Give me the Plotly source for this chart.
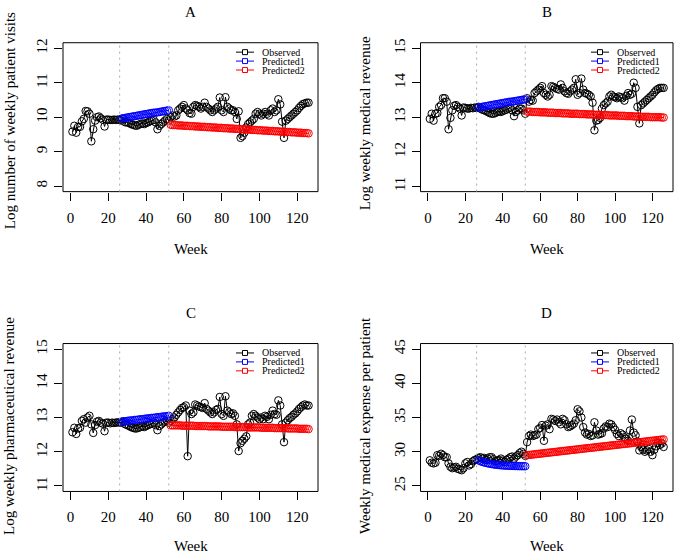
import plotly.graph_objects as go

# ---------------- data ----------------
weeks = list(range(1, 127))
weeks_p1 = list(range(27, 53))
weeks_p2 = list(range(53, 127))
x_ticks = [0, 20, 40, 60, 80, 100, 120]
split_weeks = [26, 52]
series_names = ["Observed", "Predicted1", "Predicted2"]
panel_titles = ["A", "B", "C", "D"]
y_titles = ["Log number of weekly patient visits", "Log weekly medical revenue",
            "Log weekly pharmaceutical revenue", "Weekly medical expense per patient"]
y_ticks_A = [8, 9, 10, 11, 12]
y_ticks_B = [11, 12, 13, 14, 15]
y_ticks_C = [11, 12, 13, 14, 15]
y_ticks_D = [25, 30, 35, 40, 45]

obs_A = [9.58, 9.75, 9.55, 9.72, 9.72, 9.88, 9.95, 10.18, 10.17, 10.1,
         9.3, 9.65, 9.9, 10.0, 10.02, 9.97, 9.93, 9.73, 9.93, 9.93,
         9.92, 9.92, 9.93, 9.92, 9.93, 9.92, 9.9, 9.95, 9.85, 9.85,
         9.83, 9.8, 9.78, 9.76, 9.75, 9.78, 9.8, 9.82, 9.8, 9.83,
         9.85, 9.88, 9.9, 9.92, 9.85, 9.65, 9.75, 9.8, 9.85, 9.9,
         9.95, 9.9, 10.0, 10.05, 10.02, 10.05, 10.2, 10.25, 10.3, 10.35,
         10.25, 10.2, 10.12, 10.1, 10.3, 10.35, 10.33, 10.3, 10.25, 10.3,
         10.42, 10.3, 10.25, 10.2, 10.15, 10.2, 10.25, 10.3, 10.57, 10.2,
         10.15, 10.58, 10.3, 10.25, 10.2, 10.2, 10.15, 9.95, 10.17, 9.4,
         9.45, 9.55, 9.7, 9.8, 9.85, 9.9, 9.95, 10.1, 10.15, 10.1,
         10.05, 10.1, 10.15, 10.1, 10.05, 10.2, 10.25, 10.15, 10.2, 10.52,
         10.37, 9.87, 9.4, 9.9, 9.95, 10.0, 10.05, 10.1, 10.15, 10.2,
         10.27, 10.33, 10.38, 10.4, 10.42, 10.42]
p1_A = [9.96, 9.97, 9.98, 9.99, 10.00, 10.01, 10.02, 10.03, 10.04, 10.05,
        10.06, 10.07, 10.08, 10.09, 10.10, 10.11, 10.12, 10.13, 10.13, 10.14,
        10.15, 10.16, 10.17, 10.18, 10.19, 10.20]
p2_A = [9.78, 9.77, 9.77, 9.77, 9.76, 9.76, 9.76, 9.75, 9.75, 9.75,
        9.74, 9.74, 9.74, 9.73, 9.73, 9.73, 9.72, 9.72, 9.72, 9.71,
        9.71, 9.71, 9.70, 9.70, 9.70, 9.69, 9.69, 9.69, 9.68, 9.68,
        9.68, 9.67, 9.67, 9.67, 9.66, 9.66, 9.66, 9.65, 9.65, 9.65,
        9.64, 9.64, 9.64, 9.63, 9.63, 9.63, 9.62, 9.62, 9.62, 9.61,
        9.61, 9.61, 9.60, 9.60, 9.60, 9.59, 9.59, 9.59, 9.58, 9.58,
        9.58, 9.57, 9.57, 9.57, 9.56, 9.56, 9.56, 9.55, 9.55, 9.55,
        9.54, 9.54, 9.54, 9.53]

obs_B = [12.95, 13.1, 12.9, 13.1, 13.12, 13.3, 13.35, 13.55, 13.55, 13.45,
         12.65, 12.98, 13.2, 13.33, 13.35, 13.3, 13.25, 13.05, 13.28, 13.27,
         13.25, 13.25, 13.27, 13.26, 13.28, 13.27, 13.3, 13.25, 13.22, 13.2,
         13.18, 13.15, 13.12, 13.1, 13.1, 13.12, 13.15, 13.17, 13.15, 13.18,
         13.2, 13.22, 13.25, 13.28, 13.2, 13.03, 13.15, 13.2, 13.25, 13.25,
         13.2, 13.1, 13.55, 13.45, 13.5, 13.48, 13.7, 13.75, 13.8, 13.85,
         13.9, 13.7, 13.65, 13.6, 13.65, 13.9, 13.88, 13.85, 13.82, 13.8,
         13.95, 13.85, 13.75, 13.7, 13.68, 13.75, 13.8, 13.85, 14.1, 13.65,
         13.7, 14.12, 13.8, 13.7, 13.68, 13.65, 13.6, 13.42, 12.62, 12.9,
         12.92, 12.98, 13.25, 13.35, 13.4, 13.45, 13.6, 13.65, 13.6, 13.58,
         13.55, 13.6, 13.58, 13.55, 13.48, 13.62, 13.7, 13.65, 13.68, 14.0,
         13.85, 13.3, 12.82, 13.35, 13.4, 13.45, 13.5, 13.55, 13.6, 13.65,
         13.72, 13.78, 13.82, 13.85, 13.85, 13.85]
p1_B = [13.28, 13.29, 13.30, 13.31, 13.32, 13.33, 13.34, 13.35, 13.36, 13.37,
        13.38, 13.39, 13.40, 13.41, 13.42, 13.43, 13.44, 13.45, 13.45, 13.46,
        13.47, 13.48, 13.49, 13.50, 13.51, 13.52]
p2_B = [13.16, 13.16, 13.16, 13.15, 13.15, 13.15, 13.15, 13.14, 13.14, 13.14,
        13.14, 13.13, 13.13, 13.13, 13.13, 13.12, 13.12, 13.12, 13.12, 13.11,
        13.11, 13.11, 13.11, 13.10, 13.10, 13.10, 13.10, 13.10, 13.09, 13.09,
        13.09, 13.09, 13.08, 13.08, 13.08, 13.08, 13.07, 13.07, 13.07, 13.07,
        13.06, 13.06, 13.06, 13.06, 13.05, 13.05, 13.05, 13.05, 13.05, 13.04,
        13.04, 13.04, 13.04, 13.03, 13.03, 13.03, 13.03, 13.02, 13.02, 13.02,
        13.02, 13.01, 13.01, 13.01, 13.01, 13.01, 13.00, 13.00, 13.00, 13.00,
        13.00, 13.00, 12.99, 12.99]

obs_C = [12.57, 12.7, 12.52, 12.68, 12.7, 12.9, 12.95, 12.85, 13.0, 13.05,
         12.8, 12.55, 12.78, 12.88, 12.9, 12.85, 12.82, 12.6, 12.85, 12.85,
         12.83, 12.85, 12.84, 12.85, 12.86, 12.85, 12.85, 12.88, 12.8, 12.78,
         12.75, 12.72, 12.7, 12.68, 12.68, 12.7, 12.72, 12.75, 12.72, 12.75,
         12.78, 12.8, 12.82, 12.85, 12.78, 12.63, 12.75, 12.8, 12.85, 12.88,
         12.9, 12.85, 12.9, 12.95, 13.0, 13.08, 13.15, 13.22, 13.28, 13.3,
         13.35, 11.87, 13.2, 13.1, 13.15, 13.38, 13.35, 13.32, 13.3, 13.28,
         13.42, 13.25, 13.2, 13.15, 13.1, 13.15, 13.22, 13.25, 13.6, 13.1,
         13.05, 13.62, 13.2, 13.15, 13.1, 13.12, 13.05, 12.8, 12.02, 12.25,
         12.32, 12.38, 12.45, 12.8, 12.85, 13.05, 13.1, 13.05, 13.0, 12.95,
         13.0, 12.95, 13.05, 13.02, 12.95, 13.08, 13.2, 13.1, 13.08, 13.5,
         13.35, 12.8, 12.28, 12.85, 12.92, 12.98, 13.02, 13.08, 13.12, 13.18,
         13.25, 13.3, 13.35, 13.38, 13.35, 13.35]
p1_C = [12.88, 12.89, 12.89, 12.90, 12.91, 12.91, 12.92, 12.93, 12.93, 12.94,
        12.95, 12.95, 12.96, 12.97, 12.97, 12.98, 12.99, 12.99, 13.00, 13.01,
        13.01, 13.02, 13.03, 13.03, 13.04, 13.05]
p2_C = [12.77, 12.77, 12.77, 12.77, 12.77, 12.77, 12.76, 12.76, 12.76, 12.76,
        12.76, 12.76, 12.76, 12.75, 12.75, 12.75, 12.75, 12.75, 12.75, 12.75,
        12.74, 12.74, 12.74, 12.74, 12.74, 12.74, 12.74, 12.73, 12.73, 12.73,
        12.73, 12.73, 12.73, 12.73, 12.72, 12.72, 12.72, 12.72, 12.72, 12.72,
        12.72, 12.71, 12.71, 12.71, 12.71, 12.71, 12.71, 12.71, 12.70, 12.70,
        12.70, 12.70, 12.70, 12.70, 12.70, 12.69, 12.69, 12.69, 12.69, 12.69,
        12.69, 12.69, 12.68, 12.68, 12.68, 12.68, 12.68, 12.68, 12.67, 12.67,
        12.67, 12.67, 12.67, 12.66]

obs_D = [28.75, 28.4, 28.3, 28.4, 29.5, 29.4, 29.7, 29.5, 29.2, 29.2,
         28.3, 27.8, 27.6, 27.7, 27.8, 27.5, 27.4, 27.3, 27.6, 28.3,
         28.5, 28.0, 28.2, 28.6, 28.8, 28.9, 29.1, 29.2, 29.0, 29.1,
         28.8, 29.0, 29.2, 29.2, 28.9, 28.6, 28.7, 28.8, 29.0, 28.7,
         28.5, 28.8, 29.0, 29.2, 29.3, 29.0, 29.3, 29.5, 29.8, 30.0,
         29.7, 29.4, 31.4, 32.3, 32.5, 32.3, 32.4, 32.5, 33.3, 33.5,
         33.9, 31.6, 33.8, 34.0, 33.3, 34.8, 34.7, 34.5, 34.7, 34.3,
         34.0, 34.8, 34.6, 34.0, 33.6, 33.7, 33.9, 34.1, 34.6, 36.2,
         35.9, 35.0, 33.6, 32.8, 32.5, 32.6, 32.3, 32.4, 34.3, 33.1,
         32.5, 32.6, 32.7, 33.4, 33.7, 33.6, 34.1, 34.0, 33.6, 33.2,
         32.6, 32.3, 32.7, 32.5, 32.1, 31.9, 31.6, 33.1, 34.7, 32.8,
         32.4, 31.5, 30.2, 30.7, 30.3, 30.0, 30.2, 30.4, 30.0, 29.5,
         30.3, 30.8, 31.3, 31.0, 31.2, 30.7]
p1_D = [28.75, 28.62, 28.52, 28.44, 28.37, 28.30, 28.25, 28.20, 28.15, 28.11,
        28.08, 28.05, 28.02, 28.00, 27.98, 27.96, 27.95, 27.94, 27.93, 27.92,
        27.91, 27.90, 27.90, 27.89, 27.89, 27.88]
p2_D = [29.50, 29.53, 29.56, 29.59, 29.63, 29.66, 29.69, 29.72, 29.75, 29.78,
        29.82, 29.85, 29.88, 29.91, 29.94, 29.97, 30.00, 30.04, 30.07, 30.10,
        30.13, 30.16, 30.19, 30.22, 30.26, 30.29, 30.32, 30.35, 30.38, 30.41,
        30.45, 30.48, 30.51, 30.54, 30.57, 30.60, 30.63, 30.67, 30.70, 30.73,
        30.76, 30.79, 30.82, 30.85, 30.89, 30.92, 30.95, 30.98, 31.01, 31.04,
        31.08, 31.11, 31.14, 31.17, 31.20, 31.23, 31.26, 31.30, 31.33, 31.36,
        31.39, 31.42, 31.45, 31.48, 31.52, 31.55, 31.58, 31.61, 31.64, 31.67,
        31.71, 31.74, 31.77, 31.80]

# ---------------- layout ----------------
W, H = 676, 555
FONT = "Liberation Serif"
COLORS = ["#000000", "#0000FF", "#FF0000"]


def px(x):
    return x / W


def py(y):
    return 1 - y / H


panels = [
    dict(box=(63, 318, 39, 189), yr=(7.84, 12.16), yt=y_ticks_A, obs=obs_A, p1=p1_A, p2=p2_A, ytc=118),
    dict(box=(420.5, 673, 39, 189), yr=(10.84, 15.16), yt=y_ticks_B, obs=obs_B, p1=p1_B, p2=p2_B, ytc=120),
    dict(box=(63, 318, 342, 491), yr=(10.84, 15.16), yt=y_ticks_C, obs=obs_C, p1=p1_C, p2=p2_C, ytc=425),
    dict(box=(420.5, 673, 342, 491), yr=(24.2, 45.8), yt=y_ticks_D, obs=obs_D, p1=p1_D, p2=p2_D, ytc=425),
]
ytitle_x = [10, 365, 9, 365]

fig = go.Figure()
shapes = []
annotations = []
layout = {}

for i, p in enumerate(panels):
    n = "" if i == 0 else str(i + 1)
    xa, ya = "x" + n, "y" + n
    x0, x1, y0, y1 = p["box"]
    mk = dict(symbol="circle-open", size=7.5, line=dict(width=1))
    for xs, ys, c in [(weeks, p["obs"], COLORS[0]), (weeks_p1, p["p1"], COLORS[1]),
                      (weeks_p2, p["p2"], COLORS[2])]:
        fig.add_trace(go.Scatter(x=xs, y=ys, mode="lines+markers", xaxis=xa, yaxis=ya,
                                 line=dict(color=c, width=1),
                                 marker=dict(color=c, **mk), showlegend=False,
                                 hoverinfo="skip"))
    axfont = dict(family=FONT, size=15, color="black")
    layout["xaxis" + n] = dict(domain=[px(x0), px(x1)], range=[-4, 131], anchor=ya,
                               tickvals=x_ticks, ticks="outside", ticklen=8, tickwidth=1,
                               tickcolor="black", showgrid=False, zeroline=False,
                               showline=False, tickfont=axfont, ticklabelstandoff=4)
    layout["yaxis" + n] = dict(domain=[py(y1), py(y0)], range=list(p["yr"]), anchor=xa,
                               tickvals=p["yt"], ticks="outside", ticklen=8, tickwidth=1,
                               tickcolor="black", showgrid=False, zeroline=False,
                               showline=False, tickfont=axfont, tickangle=-90,
                               ticklabelstandoff=1)
    # box
    shapes.append(dict(type="rect", xref=xa + " domain", yref=ya + " domain",
                       x0=0, x1=1, y0=0, y1=1, line=dict(color="black", width=1)))
    # dotted vertical lines
    for sw in split_weeks:
        shapes.append(dict(type="line", xref=xa, yref=ya + " domain", x0=sw, x1=sw,
                           y0=0, y1=1, line=dict(color="#AAAAAA", width=1, dash="2px,4px")))
    # titles
    cx = (x0 + x1) / 2
    annotations.append(dict(text=panel_titles[i], x=px(cx), y=py(y0 - 31), xref="paper",
                            yref="paper", showarrow=False, xanchor="center", yanchor="middle",
                            font=dict(family=FONT, size=15, color="black")))
    annotations.append(dict(text="Week", x=px(cx), y=py(min(y1 + 58, 546)), xref="paper",
                            yref="paper", showarrow=False, xanchor="center", yanchor="middle",
                            font=dict(family=FONT, size=15, color="black")))
    annotations.append(dict(text=y_titles[i], x=px(ytitle_x[i]), y=py(p["ytc"]), xref="paper",
                            yref="paper", showarrow=False, xanchor="center", yanchor="middle",
                            textangle=-90, font=dict(family=FONT, size=15, color="black")))
    # legend (manual, no box)
    for k, name in enumerate(series_names):
        ly = y0 + 9.5 + 9 * k
        lx0, lx1 = x1 - 82, x1 - 64
        shapes.append(dict(type="line", xref="paper", yref="paper", x0=px(lx0), x1=px(lx1),
                           y0=py(ly), y1=py(ly), line=dict(color=COLORS[k], width=1)))
        cxm = (lx0 + lx1) / 2
        shapes.append(dict(type="rect", xref="paper", yref="paper", x0=px(cxm - 2.5),
                           x1=px(cxm + 2.5), y0=py(ly + 2.5), y1=py(ly - 2.5),
                           line=dict(color=COLORS[k], width=1), fillcolor="white"))
        annotations.append(dict(text=name, x=px(x1 - 57), y=py(ly), xref="paper",
                                yref="paper", showarrow=False, xanchor="left",
                                yanchor="middle", borderpad=0,
                                font=dict(family=FONT, size=10, color="black")))

fig.update_layout(width=W, height=H, margin=dict(l=0, r=0, t=0, b=0),
                  paper_bgcolor="white", plot_bgcolor="white",
                  shapes=shapes, annotations=annotations, **layout)
fig.write_html("out.html")
